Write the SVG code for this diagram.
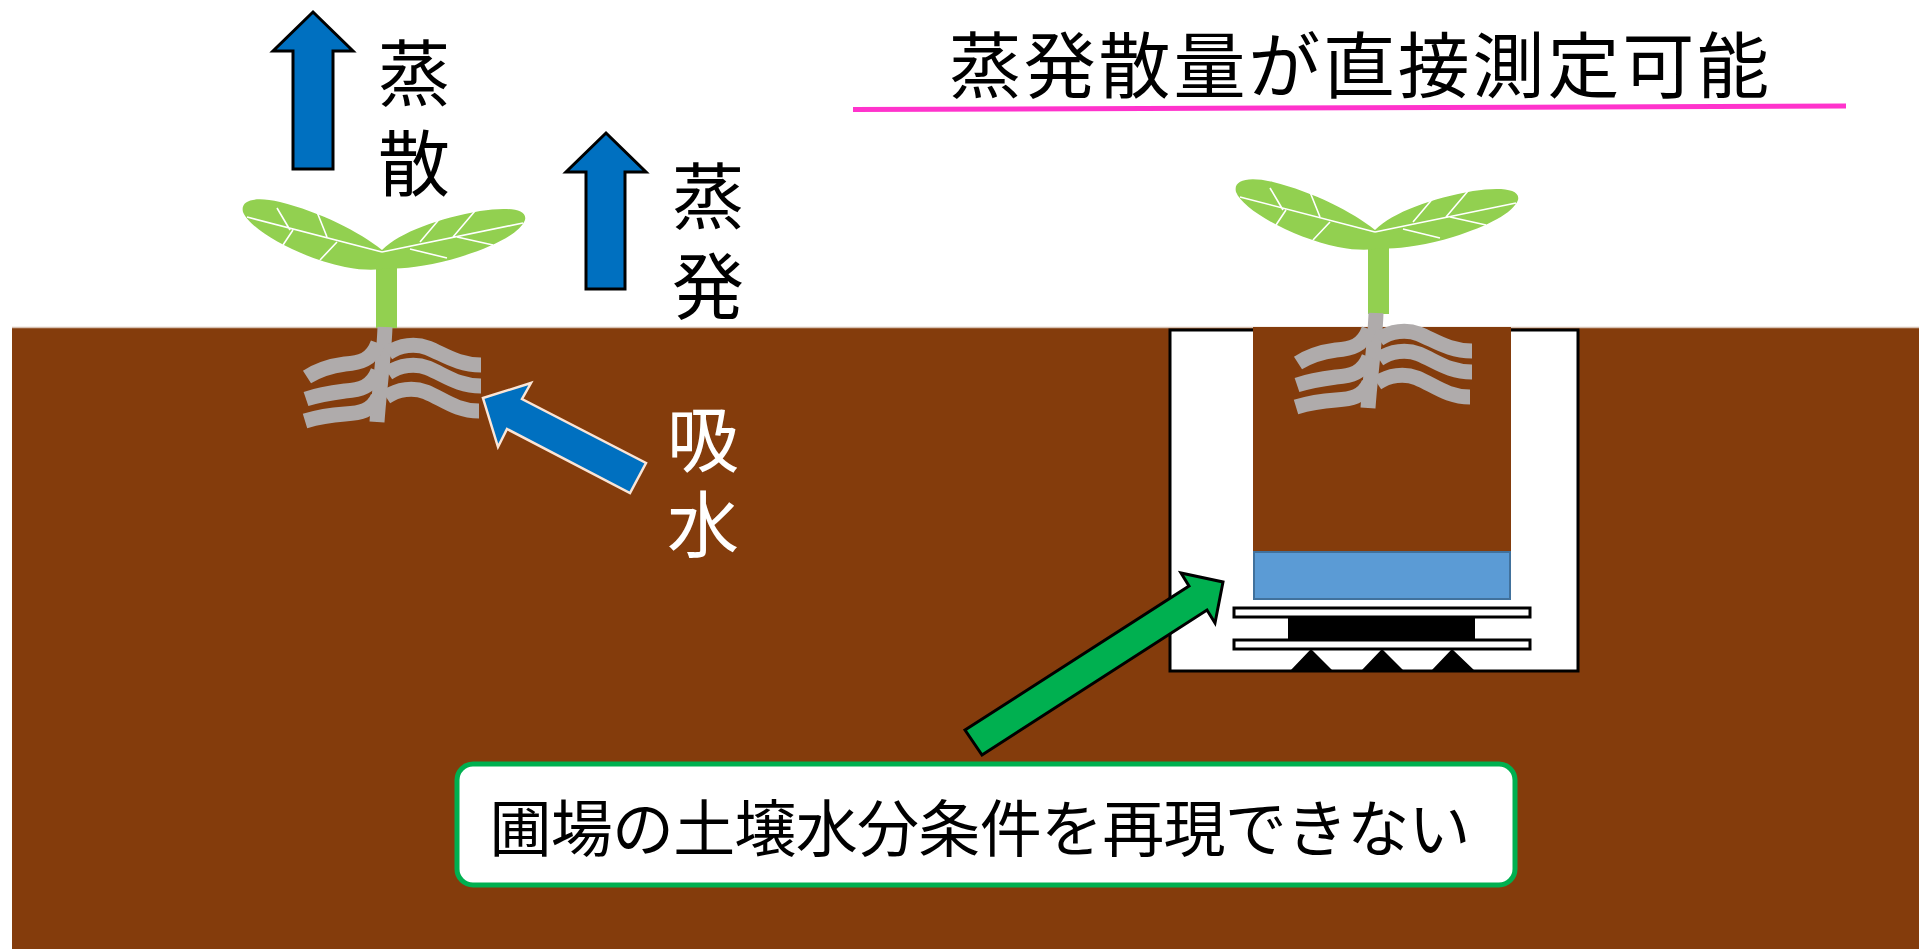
<svg xmlns="http://www.w3.org/2000/svg" width="1919" height="949" viewBox="0 0 1919 949">
  <defs>
    <style>
      .jp { font-family: "Noto Sans CJK JP", "Noto Sans CJK SC", sans-serif; text-anchor: middle; dominant-baseline: central; }
      .vert { font-family: "Noto Sans CJK JP", "Noto Sans CJK SC", sans-serif; writing-mode: vertical-rl; text-orientation: upright; text-anchor: start; font-size: 72px; }
      .leaf { fill: #92D050; }
      .vein { stroke: #FFFFFF; stroke-width: 1.6; fill: none; }
      .root { stroke: #AFABAB; stroke-width: 15; fill: none; stroke-linecap: butt; }
      .soil { fill: #843C0C; }
      .up { fill: #0070C0; stroke: #000000; stroke-width: 3; stroke-linejoin: miter; }
      .plate { fill: #FFFFFF; stroke: #000000; stroke-width: 3; }
    </style>
    <!-- seedling leaves with veins, origin at leaf junction -->
    <g id="leaves">
      <path class="leaf" d="M 0 -2 C -22 -20 -62 -40 -102 -50 C -127 -56 -142 -52 -139 -40 C -132 -22 -82 6 -37 15 C -17 19 -2 18 5 16 C 18 18 48 14 78 5 C 113 -6 138 -19 143 -32 C 146 -44 123 -45 98 -41 C 58 -34 18 -20 0 -2 Z"/>
      <path class="vein" d="M 0 0 L -135 -35 M -105 -44 L -92 -22 M -65 -40 L -55 -15 M -89 -22 L -99 -7 M -45 -10 L -62 8 M 0 0 L 141 -29 M 93 -41 L 71 -15 M 60 -36 L 38 -10 M 75 -15 L 111 -7 M 28 -3 L 65 6"/>
    </g>
    <!-- root system, origin at top of the main root -->
    <g id="roots">
      <path class="root" d="M 0 0 C -1 30 -6 65 -8 95"/>
      <path class="root" d="M -7 16 C -13 33 -25 36 -40 37 C -55 39 -67 43 -78 50"/>
      <path class="root" d="M -7 44 C -13 60 -25 63 -40 64 C -55 66 -67 68 -79 72"/>
      <path class="root" d="M -7 70 C -13 84 -25 86 -40 87 C -55 88 -67 90 -80 94"/>
      <path class="root" d="M 3 26 C 15 18 30 16 43 21 C 60 28 73 38 96 38"/>
      <path class="root" d="M 3 46 C 15 38 30 36 43 41 C 60 48 73 59 96 59"/>
      <path class="root" d="M 1 70 C 13 62 28 60 41 65 C 58 72 71 84 94 84"/>
    </g>
  </defs>

  <rect width="1919" height="949" fill="#FFFFFF"/>

  <!-- ground -->
  <g id="ground">
    <rect class="soil" x="12" y="327.5" width="1907" height="622"/>
    <line x1="12" y1="327.5" x2="1919" y2="327.5" stroke="#D7C2B4" stroke-width="1.5"/>
  </g>

  <!-- field seedling -->
  <g id="plant-field">
    <rect x="376" y="262" width="21" height="66" fill="#92D050"/>
    <use href="#leaves" transform="translate(382,252)"/>
    <use href="#roots" transform="translate(385,327)"/>
  </g>

  <!-- weighing lysimeter -->
  <g id="lysimeter">
    <rect x="1170" y="330" width="408" height="341" fill="#FFFFFF" stroke="#000000" stroke-width="3"/>
    <rect class="soil" x="1253" y="327" width="258" height="225"/>
    <rect x="1254" y="552" width="256" height="47" fill="#5B9BD5" stroke="#41719C" stroke-width="2"/>
    <rect class="plate" x="1234" y="608" width="296" height="9"/>
    <rect x="1288" y="617" width="187" height="22" fill="#000000"/>
    <rect class="plate" x="1234" y="640" width="296" height="9"/>
    <path d="M 1290 671 L 1311 649 L 1333 671 Z M 1361 671 L 1382 649 L 1404 671 Z M 1431 671 L 1452 649 L 1475 671 Z" fill="#000000"/>
  </g>

  <!-- potted seedling -->
  <g id="plant-lysimeter">
    <rect x="1368" y="242" width="21" height="72" fill="#92D050"/>
    <use href="#leaves" transform="translate(1375,232)"/>
    <use href="#roots" transform="translate(1376,313)"/>
  </g>

  <!-- flow arrows -->
  <g id="connectors">
    <path id="arrow-transpiration" class="up" d="M 313 12 L 353 51 L 333 51 L 333 169 L 293 169 L 293 51 L 273 51 Z"/>
    <path id="arrow-evaporation" class="up" d="M 606 133 L 646 172 L 625 172 L 625 289 L 586 289 L 586 172 L 566 172 Z"/>
    <path id="arrow-uptake" d="M 483 398 L 531 383 L 522 399 L 646 463 L 630 493 L 507 429 L 498 447 Z" fill="#0070C0" stroke="#FBE5D6" stroke-width="2.5"/>
    <path id="arrow-note" d="M 965 730 L 1189 586 L 1181 573 L 1223 582 L 1215 623 L 1207 610 L 982 755 Z" fill="#00B050" stroke="#000000" stroke-width="3"/>
  </g>

  <!-- vertical labels -->
  <g id="label-transpiration">
    <text class="vert" x="414" y="37" letter-spacing="18" fill="#000000">蒸散</text>
  </g>
  <g id="label-evaporation">
    <text class="vert" x="708" y="160" letter-spacing="18" fill="#000000">蒸発</text>
  </g>
  <g id="label-uptake">
    <text class="vert" x="703" y="403" letter-spacing="13" fill="#FFFFFF">吸水</text>
  </g>

  <!-- heading -->
  <g id="heading">
    <text class="jp" x="1359" y="60" font-size="72" fill="#000000" textLength="820" lengthAdjust="spacing">蒸発散量が直接測定可能</text>
    <line x1="853" y1="109.5" x2="1846" y2="106" stroke="#FF33CC" stroke-width="5"/>
  </g>

  <!-- note box -->
  <g id="note">
    <rect x="457" y="764" width="1058" height="121" rx="16" ry="16" fill="#FFFFFF" stroke="#00B050" stroke-width="5"/>
    <text class="jp" x="980" y="825" font-size="62" fill="#000000" textLength="981" lengthAdjust="spacing">圃場の土壌水分条件を再現できない</text>
  </g>
</svg>
